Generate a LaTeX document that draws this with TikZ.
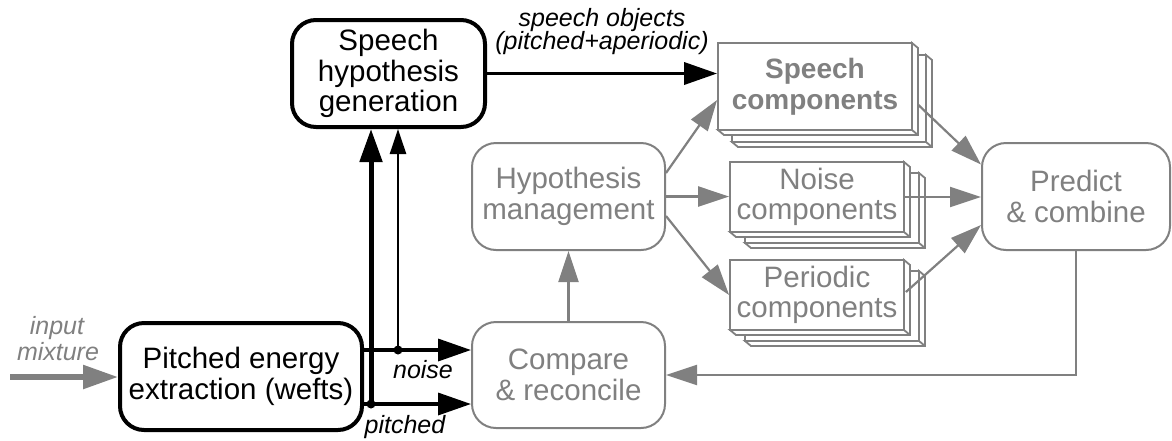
\documentclass[tikz,border=0pt]{standalone}
\usepackage{fontspec}
\setmainfont{Liberation Sans}
\usetikzlibrary{arrows.meta,calc}
\definecolor{gr}{RGB}{128,128,128}
\newcommand\boxfont{\fontsize{29.5}{30.5}\selectfont}
\newcommand\lblfont{\fontsize{25}{25}\selectfont\itshape}
\newcommand\slabdepth[4]{%
  \filldraw[slabln] (#3,#2) -- ({#3+6},{#2+5}) -- ({#3+6},{#4+5}) -- ({#1+6},{#4+5}) -- (#1,#4) -- (#3,#4) -- cycle;
  \draw[slabln] (#3,#4) -- ({#3+6},{#4+5});
}
\newcommand\stackslabs[6]{%
  \slabdepth{#1+#5}{#2+#6}{#3+#5}{#4+#6}
  \filldraw[slabln] ({#1+#5},{#2+#6}) rectangle ({#3+#5},{#4+#6});
  \slabdepth{#1}{#2}{#3}{#4}
}
\tikzset{
  bbox/.style={draw=black, line width=4pt, rounded corners=24pt, fill=white, align=center, inner sep=0pt, font=\boxfont},
  gbox/.style={draw=gr, text=gr, line width=2pt, rounded corners=24pt, fill=white, align=center, inner sep=0pt, font=\boxfont},
  slabln/.style={draw=gr, line width=1.8pt, fill=white, line join=miter},
  slabface/.style={draw=gr, text=gr, line width=1.8pt, fill=white, align=center, inner sep=0pt, font=\boxfont},
  barrow/.style={draw=black, line width=3.5pt, -{Triangle[length=33pt,width=22pt]}},
  bthick/.style={draw=black, line width=5pt, -{Triangle[length=33pt,width=22pt]}},
  bthin/.style={draw=black, line width=2.5pt, -{Triangle[length=25pt,width=16pt]}},
  garrow/.style={draw=gr, line width=2.2pt, -{Triangle[length=31pt,width=20pt]}},
  gthick/.style={draw=gr, line width=5.5pt, -{Triangle[length=35pt,width=23pt]}},
  blbl/.style={font=\lblfont, text=black, inner sep=0pt},
  glbl/.style={font=\lblfont, text=gr, inner sep=0pt},
}
\begin{document}
\begin{tikzpicture}[x=1pt,y=-1pt]
\useasboundingbox (0,0) rectangle (1172,440);

% black boxes
\node[bbox, minimum width=242pt, minimum height=107pt] (pe) at (241,376.5) {Pitched energy\\extraction (wefts)};
\node[bbox, minimum width=193pt, minimum height=107pt] (sh) at (388.5,73.5) {Speech\\hypothesis\\generation};

% gray boxes
\node[gbox, minimum width=193pt, minimum height=107pt] (hm) at (568.5,196.5) {Hypothesis\\management};
\node[gbox, minimum width=193pt, minimum height=106pt] (cr) at (568.5,375) {Compare\\\& reconcile};
\node[gbox, minimum width=188pt, minimum height=107pt] (pd) at (1076,196.5) {Predict\\\& combine};

% component stacks
\stackslabs{718}{43}{912}{130}{14}{12}
\node[slabface, minimum width=194pt, minimum height=87pt, font=\fontsize{28}{31}\selectfont\bfseries] (sc) at (815,86.5) {Speech\\components};
\stackslabs{730}{162}{904}{232}{15}{11}
\node[slabface, minimum width=174pt, minimum height=70pt] (nc) at (817,197) {Noise\\components};
\stackslabs{730}{260}{904}{330}{15}{11}
\node[slabface, minimum width=174pt, minimum height=70pt] (pc) at (817,295) {Periodic\\components};

% input
\coordinate (in) at (10,377);
\draw[gthick] (in) -- (pe.west |- in);
\node[glbl] (inl1) at (57,328) {input};
\node[glbl] (inl2) at (58,352) {mixture};

% outputs of pitched energy extraction
\coordinate (nz) at (398,350);
\coordinate (pt) at (371,404);
\draw[barrow] (pe.east |- nz) -- (cr.west |- nz);
\draw[barrow] (pe.east |- pt) -- (cr.west |- pt);
\draw[bthick] (pt) -- (pt |- sh.south);
\draw[bthin] (nz) -- (nz |- sh.south);
\fill (pt) circle (4.5pt);
\fill (nz) circle (4.5pt);
\node[blbl] (nzl) at (423,370) {noise};
\node[blbl] (ptl) at (405,427) {pitched};

% speech objects
\draw[barrow] (sh.east) -- (sc.west |- sh.east);
\node[blbl] (so1) at (602,20) {speech objects};
\node[blbl] (so2) at (602,43) {(pitched+aperiodic)};

% gray flows
\draw[garrow] (cr.north) -- (hm.south);
\draw[garrow] ($(hm.east)+(0,-23.5)$) -- ($(sc.west)+(0,13.5)$);
\draw[garrow] (hm.east) -- (nc.west |- hm.east);
\draw[garrow] ($(hm.east)+(0,19.5)$) -- (pc.west);
\draw[garrow] ($(sc.east)+(5,18)$) -- ($(pd.west)+(0,-32)$);
\draw[garrow] (nc.east) -- (pd.west |- nc.east);
\draw[garrow] ($(pc.east)+(1,-3)$) -- ($(pd.west)+(0,28.5)$);
\draw[garrow] (pd.south) |- (cr.east);
\end{tikzpicture}
\end{document}
